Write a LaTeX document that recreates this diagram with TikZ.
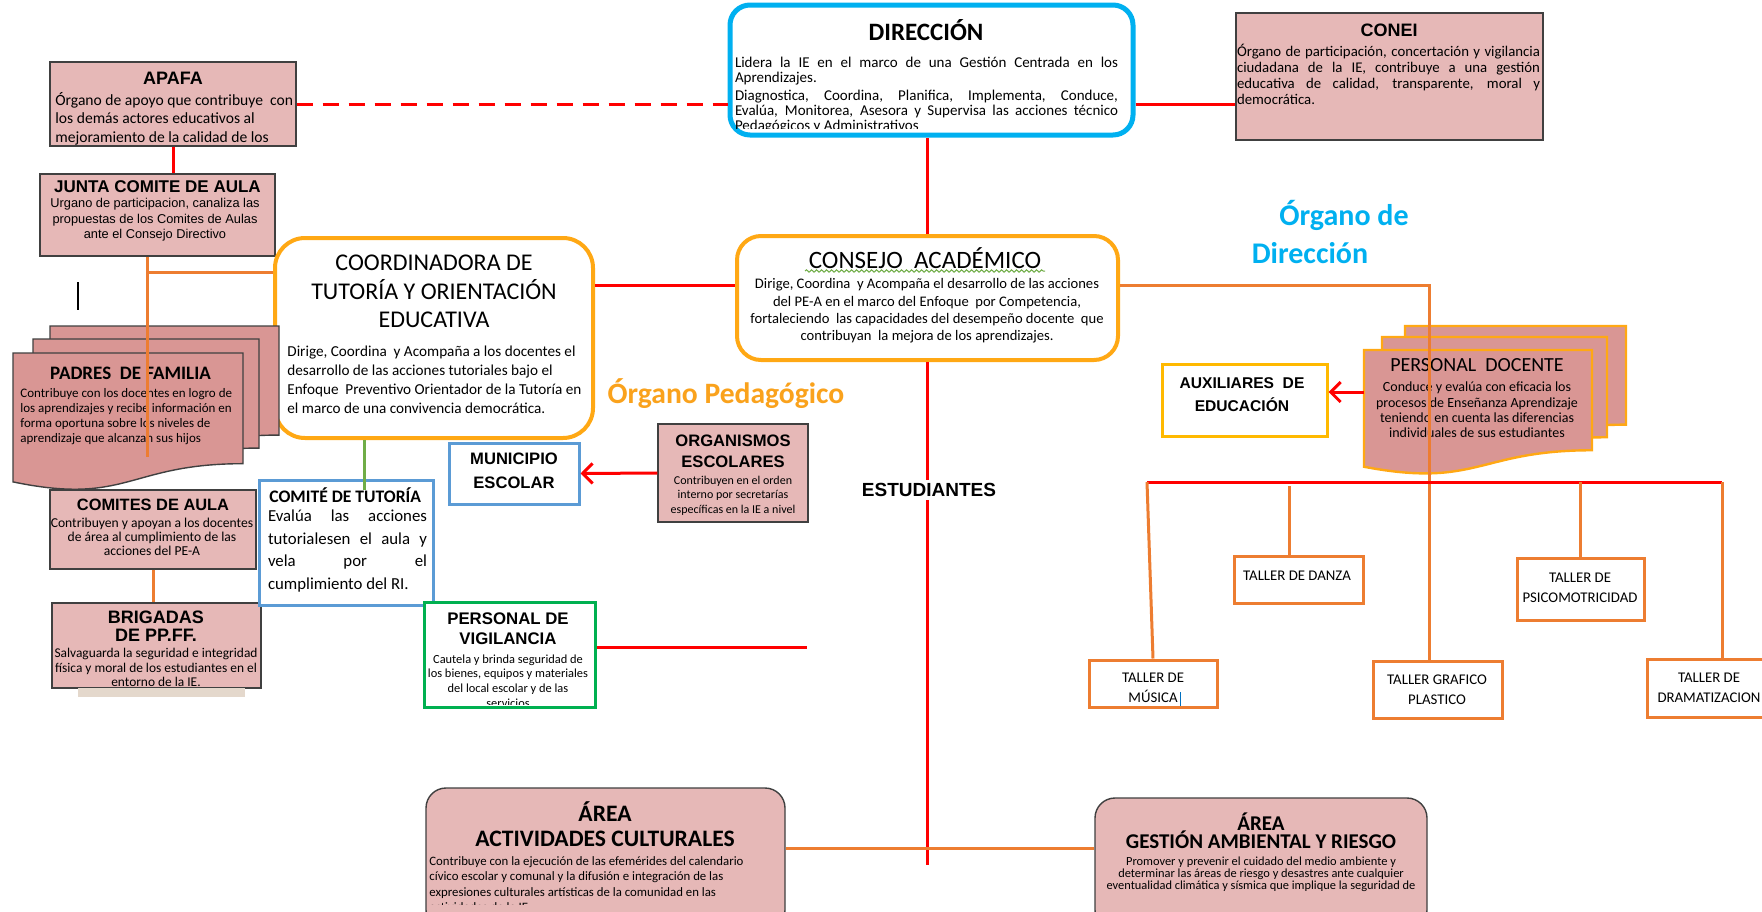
\documentclass[tikz,border=0pt]{standalone}
\usepackage{fontspec}
\setmainfont{Carlito}
\newfontfamily\arialf{Liberation Sans}
\usetikzlibrary{arrows.meta}
\usetikzlibrary{decorations.pathmorphing}

\definecolor{pinkL}{RGB}{230,184,183}
\definecolor{pinkD}{RGB}{217,150,148}
\definecolor{bordD}{RGB}{64,64,64}
\definecolor{redL}{RGB}{255,0,0}
\definecolor{orgA}{RGB}{255,168,20}
\definecolor{orgB}{RGB}{237,125,49}
\definecolor{goldA}{RGB}{255,185,0}
\definecolor{cyanD}{RGB}{0,176,240}
\definecolor{blueB}{RGB}{91,155,213}
\definecolor{greenV}{RGB}{0,176,80}
\definecolor{greenL}{RGB}{112,173,71}
\definecolor{pedC}{RGB}{250,162,28}

\newcommand{\setfs}[2]{\fontsize{#1}{#2}\selectfont}
% hoja tipo documento: estilo, x, y, ancho, alto
\newcommand{\docsheet}[5]{\filldraw[#1] (#2,#3) -- ({#2+#4},#3) -- ({#2+#4},{#3+0.802*#5}) .. controls ({#2+0.5*#4},{#3+0.802*#5}) and ({#2+0.5*#4},{#3+1.107*#5}) .. (#2,{#3+0.934*#5}) -- cycle;}

\begin{document}
\begin{tikzpicture}[x=0.5pt,y=-0.5pt,
    pbox/.style={draw=bordD,line width=0.7pt,fill=pinkL,inner sep=0pt},
    obox/.style={draw=orgA,line width=2pt,fill=white,inner sep=0pt},
    bbox/.style={draw=blueB,line width=1.5pt,fill=white,inner sep=0pt},
    tbox/.style={draw=orgB,line width=1.5pt,fill=white,inner sep=0pt},
    txt/.style={inner sep=0pt,align=center},
    pdoc/.style={fill=pinkD,draw=bordD,line width=0.7pt},
    ddoc/.style={fill=pinkD,draw=orgA,line width=1.2pt},
    rline/.style={draw=redL,line width=1.5pt},
    oline/.style={draw=orgB,line width=1.5pt},
    barb/.style={-{Straight Barb[length=5pt,width=10pt]}}]
  \useasboundingbox (0,0) rectangle (1762,911);
  \clip (0,0) rectangle (1762,911);
  \fill[white] (0,0) rectangle (1762,911);

  % fila superior
  \node[pbox,minimum width=123pt,minimum height=42pt] (apafa) at (173,104) {};
  \node[txt,font=\arialf\bfseries\setfs{9}{10}] (apafaT) at (173,78) {APAFA};
  \node[txt,align=left,anchor=west,font=\setfs{7.8}{9.25}] (apafaB) at (55,118.5) {Órgano de apoyo que contribuye\ \ con\\los demás actores educativos al\\mejoramiento de la calidad de los};

  \node[pbox,minimum width=117.5pt,minimum height=41pt] (junta) at (157.5,215) {};
  \node[txt,font=\arialf\bfseries\setfs{8.5}{10}] (juntaT) at (157.5,187) {JUNTA COMITE DE AULA};
  \node[txt,font=\arialf\setfs{6.4}{7.7}] (juntaB) at (155,220) {Urgano de participacion, canaliza las\\propuestas de los Comites de Aulas\\ante el Consejo Directivo};

  \node[obox,draw=cyanD,line width=2.5pt,rounded corners=10pt,minimum width=201.5pt,minimum height=65pt] (direccion) at (931.5,70) {};
  \node[txt,font=\bfseries\setfs{12.5}{14}] (direccionT) at (926,30) {DIRECCIÓN};
  \begin{scope}
    \clip (733,40) rectangle (1128,128);
    \node[txt,text width=191.5pt,align=justify,font=\setfs{7.5}{7.6}] (direccionB) at (926.5,95) {\setlength{\parskip}{1.5pt}Lidera la IE en el marco de una Gestión Centrada en los\linebreak Aprendizajes.\par Diagnostica, Coordina, Planifica, Implementa, Conduce,\linebreak Evalúa, Monitorea, Asesora y Supervisa las acciones técnico\linebreak Pedagógicos y Administrativos};
  \end{scope}

  \node[pbox,minimum width=153.5pt,minimum height=63.5pt] (conei) at (1389.5,76.5) {};
  \node[txt,font=\arialf\bfseries\setfs{9}{10}] (coneiT) at (1389,30) {CONEI};
  \node[txt,text width=151.5pt,align=justify,font=\setfs{7.4}{8}] (coneiB) at (1388.5,74) {Órgano de participación, concertación y vigilancia\linebreak ciudadana de la IE, contribuye a una gestión\linebreak educativa de calidad, transparente, moral y\linebreak democrática.};

  % coordinadora y consejo
  \node[obox,rounded corners=15pt,minimum width=159pt,minimum height=100pt] (coordinadora) at (434,338) {};
  \node[txt,font=\setfs{12}{14.25}] (coordinadoraT) at (434,291.5) {COORDINADORA DE\\TUTORÍA Y ORIENTACIÓN\\EDUCATIVA};
  \node[txt,align=left,anchor=west,font=\setfs{7.6}{9.5}] (coordinadoraB) at (287,380) {Dirige, Coordina\ \ y Acompaña a los docentes el\\desarrollo de las acciones tutoriales bajo el\\Enfoque\ \ Preventivo Orientador de la Tutoría en\\el marco de una convivencia democrática.};

  \node[obox,rounded corners=12pt,minimum width=190.5pt,minimum height=62pt] (consejo) at (927.5,298) {};
  \node[txt,font=\setfs{12.5}{13}] (consejoT) at (925,258) {CONSEJO\ \ ACADÉMICO};
  \draw[greenL,line width=0.5pt,decorate,decoration={snake,amplitude=0.6pt,segment length=2.5pt}] (805,271) -- (1045,271);
  \node[txt,font=\setfs{7.3}{8.65}] (consejoB) at (927,311) {Dirige, Coordina\ \ y Acompaña el desarrollo de las acciones\\del PE-A en el marco del Enfoque\ \ por Competencia,\\fortaleciendo\ \ las capacidades del desempeño docente\ \ que\\contribuyan\ \ la mejora de los aprendizajes.};

  % columna izquierda
  \draw[line width=1.2pt] (78,282) -- (78,310);
  \docsheet{pdoc}{50}{326}{229}{136}
  \docsheet{pdoc}{33}{339}{226}{136}
  \docsheet{pdoc}{13}{353}{230}{138}
  \node[txt,font=\bfseries\setfs{9.5}{11}] (padresT) at (130.5,373) {PADRES\ \ DE FAMILIA};
  \node[txt,align=left,anchor=west,font=\setfs{6.5}{7.5}] (padresB) at (20,417) {Contribuye con los docentes en logro de\\los aprendizajes y recibe información en\\forma oportuna sobre los niveles de\\aprendizaje que alcanzan sus hijos};

  \node[pbox,minimum width=103pt,minimum height=39.5pt] (comites) at (153,529.5) {};
  \node[txt,font=\arialf\bfseries\setfs{8.2}{10}] (comitesT) at (153,505) {COMITES DE AULA};
  \node[txt,font=\setfs{6.8}{7}] (comitesB) at (152,537) {Contribuyen y apoyan a los docentes\\de área al cumplimiento de las\\acciones del PE-A};

  \node[pbox,minimum width=104.5pt,minimum height=42.5pt] (brigadas) at (156.5,645.5) {};
  \node[txt,font=\arialf\bfseries\setfs{9}{9}] (brigadasT) at (156,626) {BRIGADAS\\DE PP.FF.};
  \node[txt,font=\setfs{6.7}{7.3}] (brigadasB) at (156,667.5) {Salvaguarda la seguridad e integridad\\física y moral de los estudiantes en el\\entorno de la IE.};
  \fill[black!22!brown!25] (78,688) rectangle (245,697);

  % centro
  \node[bbox,minimum width=87pt,minimum height=62.5pt] (tutoria) at (346,542.5) {};
  \node[txt,anchor=west,font=\bfseries\setfs{8.8}{10}] (tutoriaT) at (269,495) {COMITÉ DE TUTORÍA};
  \node[txt,align=left,font=\setfs{8.4}{11.2}] (tutoriaB) at (347.5,551) {\makebox[79.5pt][s]{Evalúa las acciones}\\\makebox[79.5pt][s]{tutorialesen el aula y}\\\makebox[79.5pt][s]{vela por el}\\cumplimiento del RI.};

  \node[bbox,minimum width=65pt,minimum height=30.5pt] (municipio) at (514,473.5) {};
  \node[txt,font=\arialf\bfseries\setfs{8.3}{12}] (municipioT) at (514,471) {MUNICIPIO\\ESCOLAR};

  \node[pbox,minimum width=75pt,minimum height=49pt] (organismos) at (733,473) {};
  \node[txt,font=\arialf\bfseries\setfs{8.3}{10.5}] (organismosT) at (733,451.5) {ORGANISMOS\\ESCOLARES};
  \node[txt,font=\setfs{6}{7.25}] (organismosB) at (733,495.5) {Contribuyen en el orden\\interno por secretarías\\específicas en la IE a nivel};

  \node[bbox,draw=greenV,minimum width=85.5pt,minimum height=52.5pt] (vigilancia) at (509.5,654.5) {};
  \node[txt,font=\arialf\bfseries\setfs{8.4}{10}] (vigilanciaT) at (508,629) {PERSONAL DE\\VIGILANCIA};
  \begin{scope}
    \clip (425,603) rectangle (594,704);
    \node[txt,font=\setfs{6.2}{7.35}] (vigilanciaB) at (508,681) {Cautela y brinda seguridad de\\los bienes, equipos y materiales\\del local escolar y de las\\servicios};
  \end{scope}

  \node[txt,font=\bfseries\setfs{15}{19},text=cyanD] (dirlabA) at (1344,215) {Órgano de};
  \node[txt,font=\bfseries\setfs{15}{19},text=cyanD] (dirlabB) at (1310,253) {Dirección};
  \node[txt,font=\bfseries\setfs{14.8}{16},text=pedC] (pedlab) at (726,394) {Órgano Pedagógico};

  % derecha
  \docsheet{ddoc}{1405}{326}{221}{123}
  \docsheet{ddoc}{1382}{337}{225}{125}
  \docsheet{ddoc}{1364}{350}{228}{125}
  \node[txt,font=\setfs{10}{11}] (docenteT) at (1477,365) {PERSONAL\ \ DOCENTE};
  \node[txt,font=\setfs{7}{7.7}] (docenteB) at (1477,410) {Conduce y evalúa con eficacia los\\procesos de Enseñanza Aprendizaje\\teniendo en cuenta las diferencias\\individuales de sus estudiantes};

  \node[obox,draw=goldA,line width=1.5pt,minimum width=82.5pt,minimum height=36pt] (auxiliares) at (1244.5,400) {};
  \node[txt,font=\arialf\bfseries\setfs{7.8}{11.5}] (auxiliaresT) at (1242,394.5) {AUXILIARES\ \ DE\\EDUCACIÓN};

  \node[tbox,minimum width=64pt,minimum height=23.5pt] (musica) at (1153,683.5) {};
  \node[txt,font=\setfs{7.4}{10}] (musicaT) at (1153,688) {TALLER DE\\MÚSICA};
  \draw[line width=0.5pt,color={rgb,255:red,0;green,112;blue,192}] (1180,692) -- (1180,706);
  \node[tbox,minimum width=64.5pt,minimum height=23.5pt] (danza) at (1298.5,579.5) {};
  \node[txt,font=\setfs{7.4}{10}] (danzaT) at (1297,576) {TALLER DE DANZA};
  \node[tbox,minimum width=64.5pt,minimum height=28.5pt] (grafico) at (1437.5,689.5) {};
  \node[txt,font=\setfs{7.4}{10}] (graficoT) at (1437,690) {TALLER GRAFICO\\PLASTICO};
  \node[tbox,minimum width=63.5pt,minimum height=31pt] (psico) at (1580.5,589) {};
  \node[txt,font=\setfs{7.4}{10}] (psicoT) at (1580,588) {TALLER DE\\PSICOMOTRICIDAD};
  \node[tbox,minimum width=71.5pt,minimum height=29pt] (drama) at (1718.5,688) {};
  \node[txt,font=\setfs{7.4}{10}] (dramaT) at (1709,688) {TALLER DE\\DRAMATIZACION};

  % areas
  \node[pbox,rounded corners=10pt,minimum width=179.5pt,minimum height=71pt] (act) at (605.5,859) {};
  \node[txt,font=\bfseries\setfs{11.8}{12.5}] (actT) at (605,824.5) {ÁREA\\ACTIVIDADES CULTURALES};
  \begin{scope}
    \clip (427,789) rectangle (784,904);
    \node[txt,align=left,anchor=west,font=\setfs{6.4}{7.7}] (actB) at (429,884.25) {Contribuye con la ejecución de las efemérides del calendario\\cívico escolar y comunal y la difusión e integración de las\\expresiones culturales artísticas de la comunidad en las\\actividades de la IE.};
  \end{scope}

  \node[pbox,rounded corners=10pt,minimum width=166pt,minimum height=66pt] (gestion) at (1261,864) {};
  \node[txt,font=\bfseries\setfs{10.5}{9}] (gestionT) at (1261,831) {ÁREA\\GESTIÓN AMBIENTAL Y RIESGO};
  \node[txt,font=\setfs{6.2}{5.9}] (gestionB) at (1261,874.5) {Promover y prevenir el cuidado del medio ambiente y\\determinar las áreas de riesgo y desastres ante cualquier\\eventualidad climática y sísmica que implique la seguridad de};

  % puntos de apoyo
  \coordinate (ej) at (1429,285);
  \coordinate (jc) at (147,272);
  \coordinate (pf) at (147,457);
  \coordinate (gt) at (364,490);
  \coordinate (cb) at (927,865);
  \coordinate (dl) at (1364,392);
  \coordinate (vg) at (807,647);
  \coordinate (tl) at (1147,482);
  \coordinate (tr) at (1722,482);
  \coordinate (dz) at (1289,486);
  \coordinate (ag) at (600,848);

  % conectores
  \draw[rline,dash pattern=on 8pt off 5pt] (apafa.east) -- (apafa.east -| direccion.west);
  \draw[rline] (direccion.east |- apafa.east) -- (conei.west |- apafa.east);
  \draw[rline] (apafa.south) -- (apafa.south |- junta.north);
  \draw[rline] (consejo.north) -- (consejo.north |- direccion.south);
  \draw[rline] (coordinadora.east |- ej) -- (consejo.west |- ej);
  \draw[rline] (consejo.south) -- (consejo.south |- cb);
  \draw[oline] (consejo.east |- ej) -- (ej) -- (ej |- grafico.north);
  \draw[oline] (jc |- junta.south) -- (pf);
  \draw[oline] (jc) -- (jc -| coordinadora.west);
  \draw[oline] (comites.south) -- (comites.south |- brigadas.north);
  \draw[greenL,line width=1.5pt] (gt |- coordinadora.south) -- (gt);
  \draw[rline,barb] (organismos.west) -- (municipio.east);
  \draw[rline,barb] (dl) -- (dl -| auxiliares.east);
  \draw[rline] (vg -| vigilancia.east) -- (vg);
  \draw[rline] (tl) -- (tr);
  \draw[oline] (tl) -- (musica.north);
  \draw[oline] (dz) -- (dz |- danza.north);
  \draw[oline] (psico.north |- tl) -- (psico.north);
  \draw[oline] (tr) -- (tr |- drama.north);
  \draw[oline] (act.east |- ag) -- (gestion.west |- ag);

  \node[fill=white,inner sep=1.5pt,font=\arialf\bfseries\setfs{9.5}{11}] (estudiantes) at (929,490) {ESTUDIANTES};
\end{tikzpicture}
\end{document}
